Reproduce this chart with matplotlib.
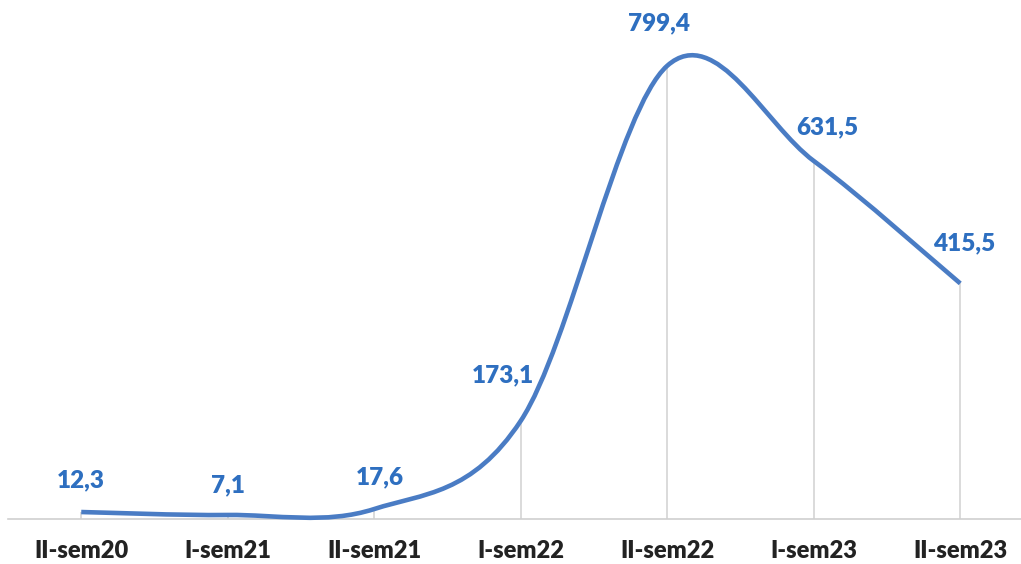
import matplotlib.pyplot as plt
from matplotlib.path import Path
from matplotlib.patches import PathPatch
import numpy as np

periods = ['II-sem20', 'I-sem21', 'II-sem21', 'I-sem22', 'II-sem22', 'I-sem23', 'II-sem23']
values = [12.3, 7.1, 17.6, 173.1, 799.4, 631.5, 415.5]
labels = ['12,3', '7,1', '17,6', '173,1', '799,4', '631,5', '415,5']

# label offsets (px) relative to the point
lab_dx = [0, 0, 6, -18, -8, 14, 4]
lab_dy = [32, 30, 32, 46, 42, 34, 40]

line_col = '#4a7cc4'
lab_col = '#2e6fc0'

plt.rcParams['font.family'] = ['Lato', 'DejaVu Sans']

fig = plt.figure(figsize=(10.21, 5.64), dpi=100)
W, H = 1021, 564
x0, px_per = 8, 146.5
base = 519
ax = fig.add_axes([x0 / W, (H - base) / H, 7 * px_per / W, base / H])
ax.set_xlim(-0.5, 6.5)
ax.set_ylim(0, base / 0.567)

x = np.arange(len(values))
y = np.array(values)

# Excel style smoothed line: bezier with catmull-rom control points
pts = np.column_stack([x, y])
verts = [pts[0]]
codes = [Path.MOVETO]
n = len(pts)
for i in range(n - 1):
    pm = pts[max(i - 1, 0)]
    pp = pts[min(i + 2, n - 1)]
    c1 = pts[i] + (pts[i + 1] - pm) / 6
    c2 = pts[i + 1] - (pp - pts[i]) / 6
    verts += [c1, c2, pts[i + 1]]
    codes += [Path.CURVE4] * 3
ax.add_patch(PathPatch(Path(verts, codes), facecolor='none', edgecolor=line_col,
                       lw=3.3, capstyle='butt', joinstyle='round', clip_on=False, zorder=3))

ax.vlines(x, 0, y, color='#d4d4d4', lw=1.2, zorder=1)

for i in range(n):
    ax.annotate(labels[i], (x[i], y[i]), xytext=(lab_dx[i] * 0.72, lab_dy[i] * 0.72),
                textcoords='offset points', ha='center', va='center',
                color=lab_col, fontsize=17.5, fontweight='heavy')

for s in ['top', 'right', 'left']:
    ax.spines[s].set_visible(False)
ax.spines['bottom'].set_color('#d0d0d0')
ax.spines['bottom'].set_linewidth(1.2)
ax.set_yticks([])
ax.set_xticks(x)
ax.set_xticklabels(periods, fontsize=17, fontweight='heavy', color='#222222')
ax.tick_params(axis='x', length=0, pad=15)

fig.savefig('out.png', dpi=100)
